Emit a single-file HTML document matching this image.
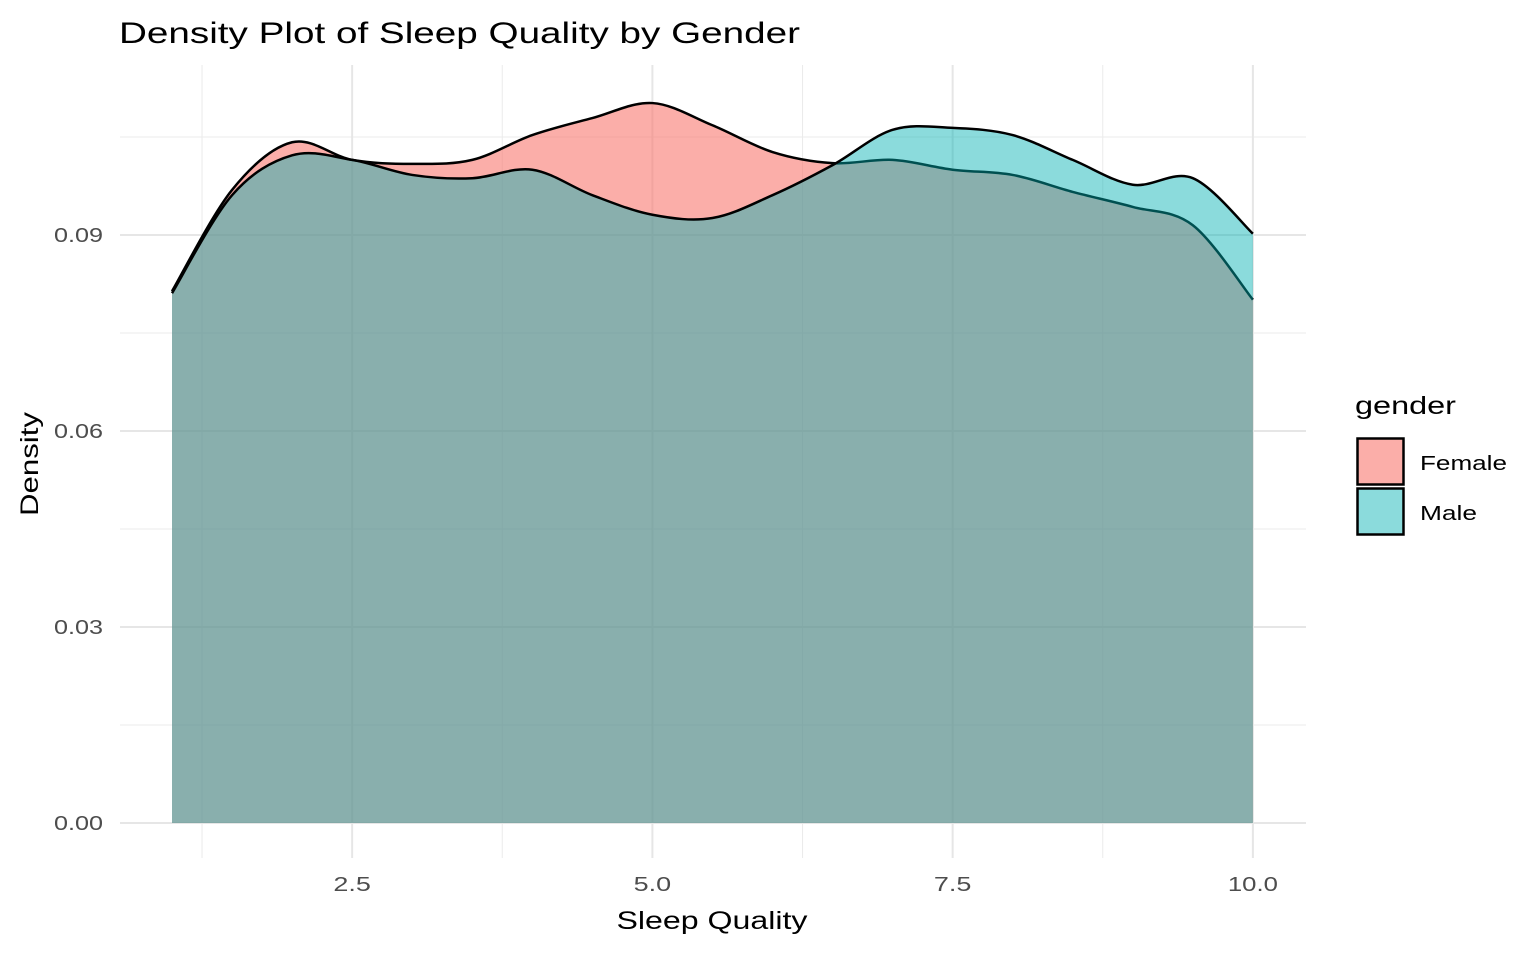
<!DOCTYPE html>
<html><head><meta charset="utf-8"><style>
body{margin:0;background:#fff;}
svg text{font-family:"Liberation Sans",Arial,sans-serif;}
</style></head><body>
<svg id="chart" width="1540" height="951" xmlns="http://www.w3.org/2000/svg">
<text x="119" y="43" font-size="30" textLength="681" lengthAdjust="spacingAndGlyphs" fill="#000">Density Plot of Sleep Quality by Gender</text>
<g id="grid"></g>
<g id="areas"></g>
<g id="ticks"></g>
<text x="712" y="929" font-size="25" textLength="191" lengthAdjust="spacingAndGlyphs" text-anchor="middle">Sleep Quality</text>
<text transform="translate(38,464) rotate(-90)" font-size="25" textLength="104" lengthAdjust="spacingAndGlyphs" text-anchor="middle">Density</text>
<g>
<text x="1355" y="414" font-size="25" textLength="101" lengthAdjust="spacingAndGlyphs">gender</text>
<rect x="1357.5" y="438.5" width="46" height="46" fill="#F8766D" fill-opacity="0.59" stroke="#000" stroke-width="2.5"/>
<text x="1420" y="470" font-size="20" textLength="87" lengthAdjust="spacingAndGlyphs">Female</text>
<rect x="1357.5" y="488.5" width="46" height="46" fill="#00AFB2" fill-opacity="0.456" stroke="#000" stroke-width="2.5"/>
<text x="1420" y="520" font-size="20" textLength="57" lengthAdjust="spacingAndGlyphs">Male</text>
</g>
</svg>
<script>
const xs = [1,1.5,2,2.5,3,3.5,4,4.5,5,5.5,6,6.5,7,7.5,8,8.5,9,9.5,10];
const femaleDensity = [0.0814,0.0969,0.1042,0.1015,0.1009,0.1015,0.1053,0.1079,0.1102,0.1068,0.1027,0.1010,0.1015,0.1000,0.0992,0.0966,0.0943,0.0915,0.0801];
const maleDensity = [0.0811,0.0961,0.1022,0.1015,0.0992,0.0987,0.1000,0.0961,0.0931,0.0926,0.0961,0.1007,0.1061,0.1064,0.1053,0.1015,0.0977,0.0987,0.0902];
const xTicks = [2.5,5.0,7.5,10.0];
const xTickLabels = ["2.5","5.0","7.5","10.0"];
const yTicks = [0,0.03,0.06,0.09];
const yTickLabels = ["0.00","0.03","0.06","0.09"];

const NS="http://www.w3.org/2000/svg";
const X=v=>172+(v-1)*120.1;
const Y=v=>823-v*6533;
const L=120,R=1306,T=65,B=858;
function mk(tag,attrs,parent){const e=document.createElementNS(NS,tag);for(const k in attrs)e.setAttribute(k,attrs[k]);parent.appendChild(e);return e;}
const grid=document.getElementById('grid'),ticks=document.getElementById('ticks'),areas=document.getElementById('areas');
const minorX=[];for(let i=0;i<xTicks.length;i++){minorX.push(xTicks[i]-1.25);}
minorX.forEach(v=>{const l=mk('line',{x1:X(v),x2:X(v),y1:T,y2:B,stroke:'#ebebeb','stroke-width':1},grid);

});
const minorY=yTicks.map(v=>v+0.015);
minorY.forEach(v=>{const l=mk('line',{x1:L,x2:R,y1:Y(v),y2:Y(v),stroke:'#ebebeb','stroke-width':1},grid);

});
xTicks.forEach((v,i)=>{const l=mk('line',{x1:X(v),x2:X(v),y1:T,y2:B,stroke:'#e6e6e6','stroke-width':2},grid);


const lab=xTickLabels[i];
const t=mk('text',{x:X(v),y:891,'font-size':20,fill:'#4d4d4d','text-anchor':'middle',textLength:lab.length*12.5,lengthAdjust:'spacingAndGlyphs'},ticks);t.textContent=lab;

});
yTicks.forEach((v,i)=>{const l=mk('line',{x1:L,x2:R,y1:Y(v),y2:Y(v),stroke:'#e6e6e6','stroke-width':2},grid);


const t=mk('text',{x:103,y:Y(v)+7,'font-size':20,fill:'#4d4d4d','text-anchor':'end',textLength:49,lengthAdjust:'spacingAndGlyphs'},ticks);t.textContent=yTickLabels[i];

});
function curve(d){const p=xs.map((x,i)=>[X(x),Y(d[i])]);let s='M'+p[0][0]+','+p[0][1];
for(let i=0;i<p.length-1;i++){const p0=p[Math.max(0,i-1)],p1=p[i],p2=p[i+1],p3=p[Math.min(p.length-1,i+2)];
s+=' C'+(p1[0]+(p2[0]-p0[0])/6)+','+(p1[1]+(p2[1]-p0[1])/6)+' '+(p2[0]-(p3[0]-p1[0])/6)+','+(p2[1]-(p3[1]-p1[1])/6)+' '+p2[0]+','+p2[1];}
return s;}
[[femaleDensity,'#F8766D',0.59,'female'],[maleDensity,'#00AFB2',0.456,'male']].forEach(([d,c,op,n])=>{
const c0=curve(d);
const a=mk('path',{d:c0+' L'+X(xs[xs.length-1])+','+Y(0)+' L'+X(xs[0])+','+Y(0)+' Z',fill:c,'fill-opacity':op,stroke:'none'},areas);


const o=mk('path',{d:c0,fill:'none',stroke:'#000','stroke-width':2.5},areas);

});
</script>
</body></html>
